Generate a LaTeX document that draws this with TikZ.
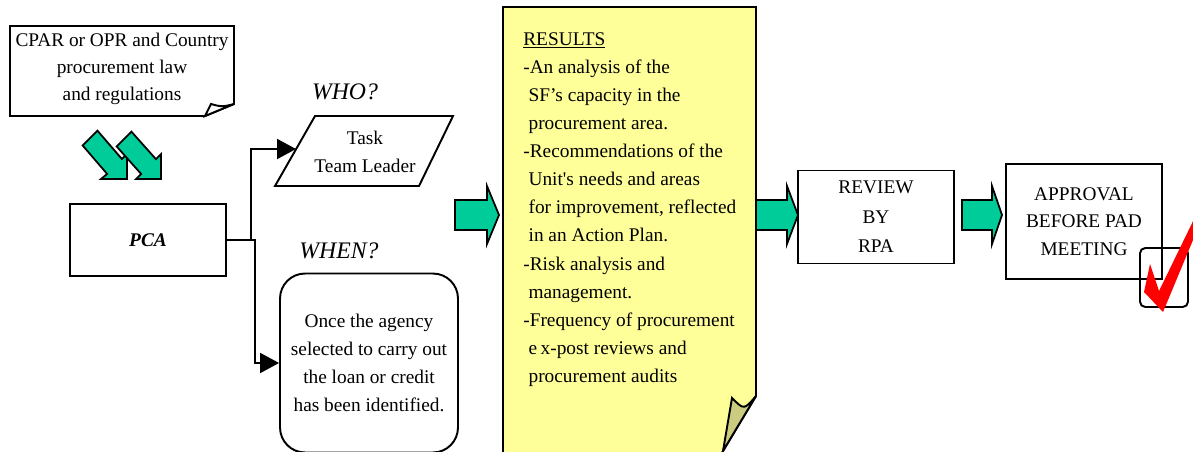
\documentclass[tikz,border=0pt]{standalone}
\usepackage{fontspec}
\setmainfont{Liberation Serif}
\usetikzlibrary{arrows.meta}

\definecolor{arrowgreen}{RGB}{0,204,153}
\definecolor{noteyellow}{RGB}{255,255,153}
\definecolor{foldkhaki}{RGB}{204,204,128}

\tikzset{
  box/.style={draw, line width=1.1pt},
  link/.style={draw, line width=1.1pt, -{Triangle[length=0.38cm,width=0.4cm]}},
  fat/.style={draw, line width=1pt, fill=arrowgreen},
  txt/.style={align=center, font=\fontsize{11}{16}\selectfont},
  ask/.style={font=\fontsize{13.5}{16}\selectfont\itshape},
}

\begin{document}
\begin{tikzpicture}[x=0.02cm, y=-0.02cm, line join=miter]
\useasboundingbox (0,0) rectangle (1193,451);

% source document with curled corner
\draw[box, fill=white] (10,26) -- (234,26) -- (234,104) -- (205,116) -- (10,116) -- cycle;
\draw[box, fill=white] (205,116) -- (211,104) .. controls (222,107) .. (234,104) -- cycle;
\node[txt, font=\fontsize{11}{15.3}\selectfont] (src) at (122,69) {CPAR or OPR and Country\\procurement law\\and regulations};

% two fat arrows down to PCA
\draw[fat] (97.4,130.6) -- (121.9,159) -- (127,154) -- (127,179) -- (101,179) -- (107.1,173.9) -- (82.6,145.4) -- cycle;
\draw[fat] (131.4,131.6) -- (155.9,159.1) -- (161,154) -- (161,179) -- (136,179) -- (141.1,173.9) -- (116.6,146.4) -- cycle;

\node[box, txt, minimum width=3.12cm, minimum height=1.44cm] (pca) at (148,240) {\textbf{\textit{PCA}}};

% who
\node[ask] (who) at (345,92) {WHO?};
\draw[box] (315,116) -- (453,116) -- (419,186) -- (275,186) -- cycle;
\node[txt] (task) at (365,152) {Task\\Team Leader};
\coordinate (whoin) at (296,149);

% when
\node[ask] (whentitle) at (339,251) {WHEN?};
\node[box, txt, rounded corners=0.5cm, minimum width=3.56cm, minimum height=3.58cm] (when) at (369,363) {Once the agency\\selected to carry out\\the loan or credit\\has been identified.};

\path (pca.east) ++(24,0) coordinate (fork);
\draw[link] (pca.east) -- ++(28,0) |- (when.west);
\draw[link] (fork) |- (whoin);

% results note
\draw[fat] (455,200) -- (487,200) -- (487,186) -- (499,215) -- (487,244) -- (487,230) -- (455,230) -- cycle;
\draw[box, fill=noteyellow] (503,470) -- (503,7) -- (756,7) -- (756,396) -- (723,451) -- (712,470) -- cycle;
\draw[box, fill=foldkhaki] (723,451) -- (732,398) .. controls (744,410) .. (756,396) -- cycle;
\node[anchor=north west, inner sep=0, align=left, font=\fontsize{11}{16}\selectfont] (res) at (523,32) {\underline{RESULTS}\\
-An analysis of the\\
\hspace*{3pt}SF’s capacity in the\\
\hspace*{3pt}procurement area.\\
-Recommendations of the\\
\hspace*{3pt}Unit\textquotesingle s needs and areas\\
\hspace*{3pt}for improvement, reflected\\
\hspace*{3pt}in an Action Plan.\\
-Risk analysis and\\
\hspace*{3pt}management.\\
-Frequency of procurement\\
\hspace*{3pt}e\kern2pt x-post reviews and\\
\hspace*{3pt}procurement audits};

% review and approval
\draw[fat] (756,200) -- (787,200) -- (787,186) -- (798,215) -- (787,244) -- (787,230) -- (756,230) -- cycle;
\node[box, txt, font=\fontsize{11}{16.7}\selectfont, minimum width=3.12cm, minimum height=1.86cm] (review) at (876,217) {REVIEW\\BY\\RPA};
\draw[fat] (962,200) -- (992,200) -- (992,186) -- (1002,215) -- (992,244) -- (992,230) -- (962,230) -- cycle;
\node[box, txt, font=\fontsize{11}{15.6}\selectfont, minimum width=3.12cm, minimum height=2.3cm] (appr) at (1084,221.5) {APPROVAL\\BEFORE PAD\\MEETING};

% tick
\draw[box, rounded corners=3pt] (1140,248) rectangle (1188,307);
\fill[red] (1150,264) -- (1159,291) -- (1196,215) -- (1198,228) -- (1163,312) -- (1144,292) -- cycle;

\end{tikzpicture}
\end{document}
